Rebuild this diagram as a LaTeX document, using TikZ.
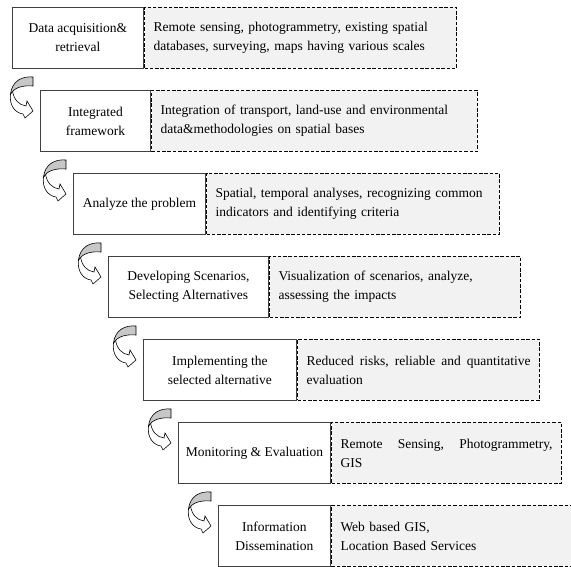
\documentclass[tikz,border=0pt]{standalone}
\usepackage{fontspec}
\setmainfont{Liberation Serif}
\usetikzlibrary{positioning}
\newcommand{\bendarrow}[1]{%
  \begin{scope}[shift={(#1.north west)}, line width=0.6pt]
    \filldraw[fill=white] (-29.5,4) .. controls (-31,15) and (-25,23) .. (-17,24) -- (-15,28) -- (-7,21) -- (-13,11) -- (-14,16) .. controls (-21,15) and (-26,10) .. (-27.5,1) -- cycle;
    \filldraw[fill=black!22] (-7,-13) .. controls (-18,-14) and (-28,-9) .. (-29.5,4) .. controls (-26,-2) and (-18,-5) .. (-7,-4) -- cycle;
  \end{scope}}

\begin{document}
\begin{tikzpicture}[
  x=1pt, y=-1pt,
  node distance=0pt,
  txt/.style={font=\fontsize{13.5}{19}\selectfont},
  stage/.style={txt, draw=black!75, line width=0.8pt, fill=white, align=center, minimum height=61pt, inner xsep=2pt, anchor=north west},
  detail/.style={txt, draw=black, line width=1.5pt, dash pattern=on 3.5pt off 1.8pt, fill=black!5, align=left, minimum height=61pt, inner xsep=9pt},
]
\fill[white] (0,0) rectangle (571,567);
\clip (0,0) rectangle (571,567);

\node[stage, minimum width=131pt] (acq) at (12,7) {Data acquisition\&\\retrieval};
\node[detail, text width=294pt, right=of acq] (acqinfo) {Remote sensing, photogrammetry, existing spatial\\databases, surveying, maps having various scales};

\node[stage, minimum width=110pt] (frame) at (40,90) {Integrated\\framework};
\node[detail, text width=308pt, right=of frame] (frameinfo) {Integration of transport, land-use and environmental\\data\&methodologies on spatial bases};

\node[stage, minimum width=132pt] (problem) at (73,173) {Analyze the problem};
\node[detail, text width=275pt, right=of problem] (probleminfo) {Spatial, temporal analyses, recognizing common\\indicators and identifying criteria};

\node[stage, minimum width=160pt] (scen) at (108,256) {Developing Scenarios,\\Selecting Alternatives};
\node[detail, text width=233pt, right=of scen] (sceninfo) {Visualization of scenarios, analyze,\\assessing the impacts};

\node[stage, minimum width=153pt] (impl) at (143,339) {Implementing the\\selected alternative};
\node[detail, text width=224pt, right=of impl] (implinfo) {Reduced\hfill risks,\hfill reliable\hfill and\hfill quantitative\\evaluation};

\node[stage, minimum width=152pt] (monit) at (178,422) {Monitoring \& Evaluation};
\node[detail, text width=212pt, right=of monit] (monitinfo) {Remote\hfill Sensing,\hfill Photogrammetry,\\GIS};

\node[stage, minimum width=112pt] (dissem) at (218,505) {Information\\Dissemination};
\node[detail, text width=242pt, right=of dissem] (disseminfo) {Web based GIS,\\Location Based Services};

% turning arrows between the steps
\bendarrow{frame}
\bendarrow{problem}
\bendarrow{scen}
\bendarrow{impl}
\bendarrow{monit}
\bendarrow{dissem}
\end{tikzpicture}
\end{document}
